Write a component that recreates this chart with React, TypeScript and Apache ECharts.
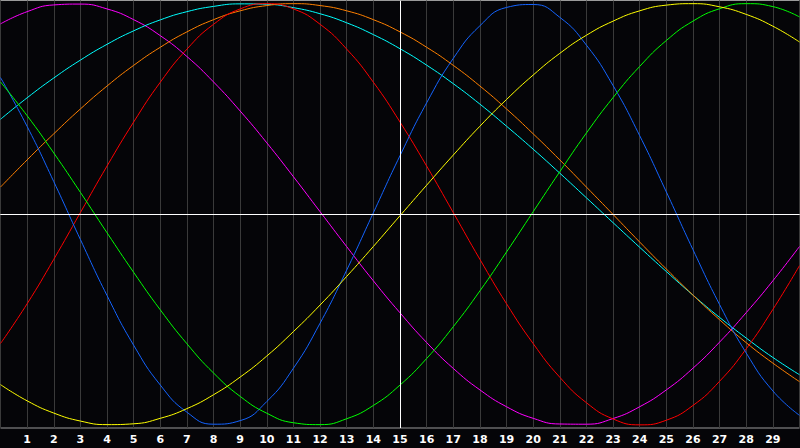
import { useEffect, useRef } from "react";
import * as echarts from "echarts";

// x positions (one sample per grid column)
const xs = [0, 1, 2, 3, 4, 5, 6, 7, 8, 9, 10, 11, 12, 13, 14, 15, 16, 17, 18, 19, 20, 21, 22, 23, 24, 25, 26, 27, 28, 29, 30];

// values, one list per curve
const magenta = [0.904, 0.962, 0.994, 0.998, 0.975, 0.924, 0.848, 0.749, 0.628, 0.49, 0.339, 0.178, 0.012, -0.154, -0.316, -0.468, -0.609, -0.732, -0.834, -0.914, -0.969, -0.996, -0.997, -0.97, -0.914, -0.834, -0.731, -0.607, -0.467, -0.316, -0.153];
const cyan = [0.451, 0.553, 0.647, 0.732, 0.807, 0.871, 0.923, 0.962, 0.987, 0.999, 0.997, 0.981, 0.952, 0.909, 0.853, 0.786, 0.708, 0.62, 0.523, 0.418, 0.309, 0.195, 0.078, -0.04, -0.157, -0.272, -0.384, -0.49, -0.588, -0.68, -0.762];
const orange = [0.129, 0.258, 0.382, 0.5, 0.609, 0.707, 0.793, 0.866, 0.924, 0.966, 0.991, 1.0, 0.991, 0.966, 0.924, 0.866, 0.793, 0.707, 0.609, 0.5, 0.382, 0.258, 0.129, -0.001, -0.132, -0.26, -0.384, -0.501, -0.61, -0.707, -0.795];
const red = [-0.614, -0.425, -0.214, 0.008, 0.229, 0.438, 0.627, 0.784, 0.902, 0.975, 1.0, 0.975, 0.902, 0.784, 0.627, 0.438, 0.229, 0.008, -0.214, -0.425, -0.614, -0.774, -0.895, -0.972, -1.0, -0.978, -0.908, -0.793, -0.639, -0.452, -0.244];
const blue = [0.649, 0.417, 0.155, -0.12, -0.386, -0.622, -0.811, -0.94, -0.997, -0.98, -0.889, -0.731, -0.517, -0.265, 0.007, 0.278, 0.529, 0.74, 0.895, 0.982, 0.996, 0.935, 0.803, 0.611, 0.373, 0.106, -0.168, -0.429, -0.659, -0.839, -0.955];
const green = [0.628, 0.468, 0.291, 0.104, -0.088, -0.276, -0.454, -0.615, -0.754, -0.865, -0.945, -0.99, -0.999, -0.971, -0.908, -0.811, -0.685, -0.534, -0.364, -0.179, 0.012, 0.202, 0.386, 0.554, 0.702, 0.825, 0.917, 0.976, 1.0, 0.986, 0.937];
const yellow = [-0.809, -0.886, -0.944, -0.982, -0.999, -0.995, -0.969, -0.923, -0.857, -0.773, -0.673, -0.557, -0.431, -0.295, -0.153, -0.007, 0.138, 0.281, 0.418, 0.545, 0.661, 0.764, 0.85, 0.917, 0.966, 0.993, 1.0, 0.985, 0.949, 0.893, 0.818];

const curves = [
  { name: "magenta", values: magenta, color: "#ff00ff" },
  { name: "cyan", values: cyan, color: "#00ffff" },
  { name: "orange", values: orange, color: "#ff8000" },
  { name: "red", values: red, color: "#ff0000" },
  { name: "blue", values: blue, color: "#1464ff" },
  { name: "green", values: green, color: "#00ff00" },
  { name: "yellow", values: yellow, color: "#ffff00" },
];

// cross hair position (white lines)
const crossX = 15;
const crossY = 0;

const App = () => {
  const chartRef = useRef<HTMLDivElement>(null);

  useEffect(() => {
    document.body.style.margin = "0";
    document.body.style.background = "#050508";
    if (!chartRef.current) return;
    const chart = echarts.init(chartRef.current, null, { renderer: "svg" });

    const series: any[] = curves.map((c, i) => ({
      name: c.name,
      type: "line",
      smooth: true,
      symbol: "none",
      lineStyle: { color: c.color, width: 1 },
      data: xs.map((x, j) => [x, c.values[j]]),
      ...(i === 0
        ? {
            markLine: {
              silent: true,
              symbol: "none",
              label: { show: false },
              lineStyle: { color: "#ffffff", width: 1, type: "solid" },
              data: [{ xAxis: crossX }, { yAxis: crossY }],
            },
          }
        : {}),
    }));

    chart.setOption({
      animation: false,
      backgroundColor: "#050508",
      grid: {
        left: 0.5,
        right: 0.5,
        top: 0.5,
        bottom: 20,
        show: true,
        borderColor: "#9a9a9a",
        borderWidth: 1,
      },
      xAxis: {
        type: "value",
        min: 0,
        max: 30,
        interval: 1,
        axisLine: { show: true, lineStyle: { color: "#9a9a9a" } },
        axisTick: { show: false },
        splitLine: { show: true, lineStyle: { color: "#3a3a3a", width: 1 } },
        axisLabel: {
          showMinLabel: false,
          showMaxLabel: false,
          color: "#ffffff",
          fontWeight: "bold",
          fontSize: 11,
          fontFamily: "DejaVu Sans",
          margin: 6,
        },
      },
      yAxis: {
        type: "value",
        min: -1.015,
        max: 1.015,
        axisLine: { show: false },
        axisTick: { show: false },
        axisLabel: { show: false },
        splitLine: { show: false },
      },
      series,
    });

    return () => {
      chart.dispose();
    };
  }, []);

  return <div ref={chartRef} style={{ width: 800, height: 448 }} />;
};

export default App;
